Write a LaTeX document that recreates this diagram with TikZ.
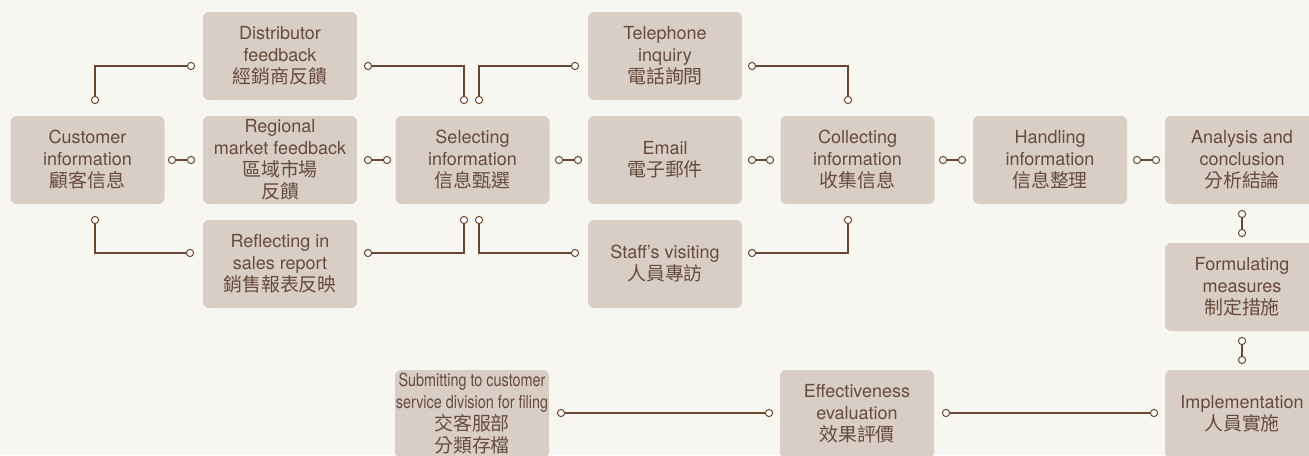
\documentclass[tikz,border=0pt]{standalone}
\usepackage{fontspec}
\setmainfont{TeX Gyre Heros}
\newfontfamily\cjk[Scale=1.05]{Noto Sans CJK TC}
\newfontfamily\narrowfont[FakeStretch=0.8]{TeX Gyre Heros}
\usetikzlibrary{calc}
\definecolor{bg}{HTML}{F8F6F1}
\definecolor{boxc}{HTML}{D9CEC5}
\definecolor{linec}{HTML}{6B4630}
\definecolor{txtc}{HTML}{664B3D}
\begin{document}
\begin{tikzpicture}[x=0.5pt,y=-0.5pt,
  box/.style={rectangle, rounded corners=3pt, fill=boxc, text=txtc, minimum width=77pt, minimum height=44pt, inner sep=0pt, align=center, font=\fontsize{9}{11}\selectfont},
  dot/.style={circle, draw=linec, fill=white, line width=0.5pt, inner sep=0pt, minimum size=3.6pt},
  ln/.style={draw=linec, line width=0.85pt}]
\fill[bg] (0,0) rectangle (1309,455);
\useasboundingbox (0,0) rectangle (1309,455);
% boxes
\node[box] (dist) at (280,56) {Distributor\\feedback\\{\cjk 經銷商反饋}};
\node[box] (tel) at (665,56) {Telephone\\inquiry\\{\cjk 電話詢問}};
\node[box] (cust) at (87.5,160) {Customer\\information\\{\cjk 顧客信息}};
\node[box] (reg) at (280,160) {Regional\\market feedback\\{\cjk 區域市場}\\{\cjk 反饋}};
\node[box] (sel) at (472.5,160) {Selecting\\information\\{\cjk 信息甄選}};
\node[box] (email) at (665,160) {Email\\{\cjk 電子郵件}};
\node[box] (coll) at (857.5,160) {Collecting\\information\\{\cjk 收集信息}};
\node[box] (hand) at (1050,160) {Handling\\information\\{\cjk 信息整理}};
\node[box] (anal) at (1242,160) {Analysis and\\conclusion\\{\cjk 分析結論}};
\node[box] (refl) at (280,264) {Reflecting in\\sales report\\{\cjk 銷售報表反映}};
\node[box] (staff) at (665,264) {Staff's visiting\\{\cjk 人員專訪}};
\node[box] (form) at (1242,287) {Formulating\\measures\\{\cjk 制定措施}};
\node[box] (impl) at (1242,414) {Implementation\\{\cjk 人員實施}};
\node[box] (eff) at (857,414) {Effectiveness\\evaluation\\{\cjk 效果評價}};
\node[box] (sub) at (472,414) {{\narrowfont Submitting to customer}\\{\narrowfont service division for filing}\\{\cjk 交客服部}\\{\cjk 分類存檔}};
% row 2 horizontal connectors
\node[dot] (h1a) at (172,160) {}; \node[dot] (h1b) at (191,160) {};
\node[dot] (h2a) at (368,160) {}; \node[dot] (h2b) at (387,160) {};
\node[dot] (h3a) at (559,160) {}; \node[dot] (h3b) at (578,160) {};
\node[dot] (h4a) at (752,160) {}; \node[dot] (h4b) at (770,160) {};
\node[dot] (h5a) at (943,160) {}; \node[dot] (h5b) at (962,160) {};
\node[dot] (h6a) at (1137,160) {}; \node[dot] (h6b) at (1156,160) {};
\foreach \i in {1,...,6} {\draw[ln] (h\i a.east) -- (h\i b.west);}
% vertical connectors on the right
\node[dot] (v1a) at (1242,214) {}; \node[dot] (v1b) at (1242,233) {};
\node[dot] (v2a) at (1242,341) {}; \node[dot] (v2b) at (1242,360) {};
\draw[ln] (v1a.south) -- (v1b.north);
\draw[ln] (v2a.south) -- (v2b.north);
% bottom row connectors
\node[dot] (b1a) at (1154,413) {}; \node[dot] (b1b) at (946,413) {};
\node[dot] (b2a) at (769,413) {}; \node[dot] (b2b) at (561,413) {};
\draw[ln] (b1a.west) -- (b1b.east);
\draw[ln] (b2a.west) -- (b2b.east);
% elbow connectors, top
\node[dot] (t1a) at (191,66) {}; \node[dot] (t1b) at (95,100) {};
\node[dot] (t2a) at (368,66) {}; \node[dot] (t2b) at (464,100) {};
\node[dot] (t3a) at (575,66) {}; \node[dot] (t3b) at (479,100) {};
\node[dot] (t4a) at (752,66) {}; \node[dot] (t4b) at (848,100) {};
\draw[ln] (t1a.west) -| (t1b.north);
\draw[ln] (t2a.east) -| (t2b.north);
\draw[ln] (t3a.west) -| (t3b.north);
\draw[ln] (t4a.east) -| (t4b.north);
% elbow connectors, bottom
\node[dot] (u1a) at (190,253) {}; \node[dot] (u1b) at (95,220) {};
\node[dot] (u2a) at (368,253) {}; \node[dot] (u2b) at (464,220) {};
\node[dot] (u3a) at (575,253) {}; \node[dot] (u3b) at (479,220) {};
\node[dot] (u4a) at (752,253) {}; \node[dot] (u4b) at (848,220) {};
\draw[ln] (u1a.west) -| (u1b.south);
\draw[ln] (u2a.east) -| (u2b.south);
\draw[ln] (u3a.west) -| (u3b.south);
\draw[ln] (u4a.east) -| (u4b.south);
\end{tikzpicture}
\end{document}
